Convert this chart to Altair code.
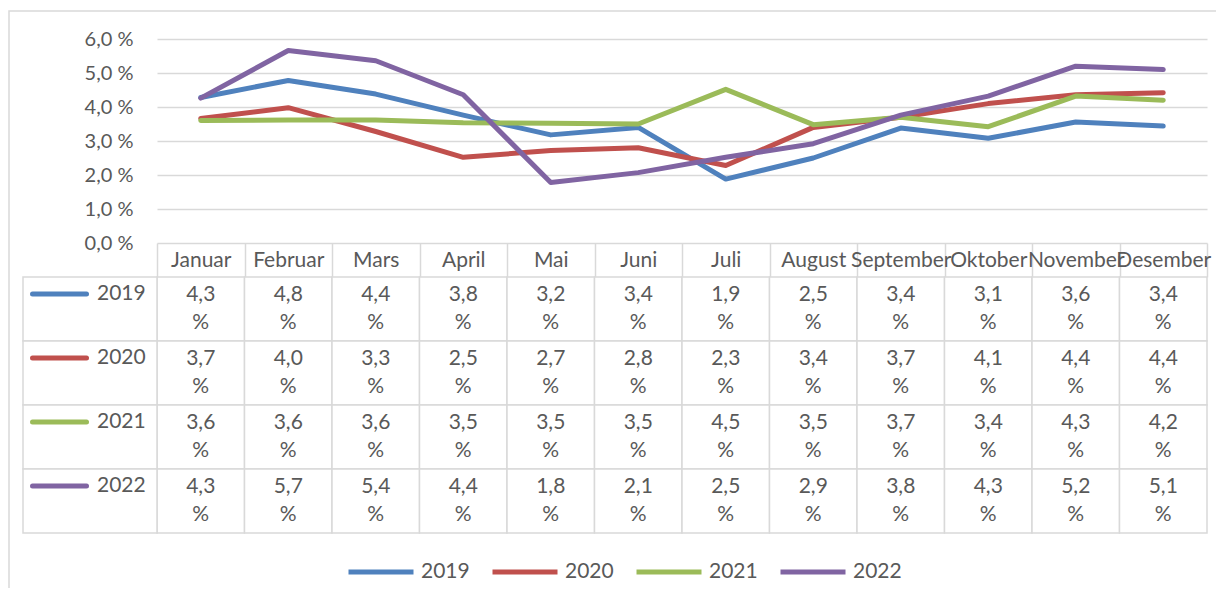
import altair as alt
import pandas as pd

months = ["Januar", "Februar", "Mars", "April", "Mai", "Juni", "Juli",
          "August", "September", "Oktober", "November", "Desember"]
years = ["2019", "2020", "2021", "2022"]
v2019 = [4.28, 4.78, 4.38, 3.76, 3.18, 3.40, 1.88, 2.50, 3.38, 3.08, 3.56, 3.44]
v2020 = [3.66, 3.98, 3.28, 2.52, 2.72, 2.80, 2.28, 3.40, 3.70, 4.10, 4.36, 4.42]
v2021 = [3.60, 3.62, 3.62, 3.54, 3.52, 3.50, 4.52, 3.48, 3.70, 3.42, 4.32, 4.20]
v2022 = [4.26, 5.66, 5.36, 4.36, 1.78, 2.07, 2.52, 2.92, 3.76, 4.32, 5.20, 5.10]
colors = ["#4F81BD", "#C0504D", "#9BBB59", "#8064A2"]

rows = []
for yr, vals in zip(years, [v2019, v2020, v2021, v2022]):
    for m, v in zip(months, vals):
        rows.append({"month": m, "year": yr, "value": v,
                     "label": f"{v:.1f}".replace(".", ",") + "\n%"})
df = pd.DataFrame(rows)
hdr_df = df[df["month"] == months[0]]

W, H = 1050, 494
GRID = "#d9d9d9"
TXT = "#595959"
FONT = "Lato"
FS = 21

xscale = alt.Scale(domain=months, type="band", paddingInner=0, paddingOuter=0)
cscale = alt.Scale(domain=years, range=colors)
xaxis = alt.Axis(orient="bottom", offset=-290, domain=False, grid=False,
                 tickBand="extent", tickSize=34, tickColor=GRID, tickWidth=1.5,
                 labelPadding=-28, labelAngle=0, labelFontSize=FS,
                 labelColor=TXT, labelFont=FONT)
xenc = alt.X("month:N", scale=xscale, sort=months, title=None, axis=xaxis)

frame = alt.Chart(pd.DataFrame({"f": [0]})).mark_rect(
    fill="white", fillOpacity=0, stroke=GRID, strokeWidth=1.5
).encode(x=alt.value(-148), x2=alt.value(1300), y=alt.value(-28), y2=alt.value(700))

lines = alt.Chart(df).mark_line(strokeWidth=5, strokeCap="round", strokeJoin="round").encode(
    x=xenc,
    y=alt.Y("value:Q", scale=alt.Scale(domain=[0, 6], range=[204, 0], nice=False),
            title=None,
            axis=alt.Axis(values=[0, 1, 2, 3, 4, 5, 6], grid=True, gridColor=GRID,
                          gridWidth=1.5, domain=False, ticks=False, labelPadding=24,
                          labelFontSize=20, labelColor=TXT, labelFont=FONT,
                          labelExpr="replace(format(datum.value, '.1f'), '.', ',') + ' %'")),
    color=alt.Color("year:N", scale=cscale,
                    legend=alt.Legend(title=None, orient="none", legendX=189, legendY=498,
                                      direction="horizontal", symbolType="stroke",
                                      symbolSize=4225, symbolStrokeWidth=5,
                                      labelFontSize=FS, labelColor=TXT, labelFont=FONT,
                                      labelOffset=5, columnPadding=12, padding=0)),
)

yt = alt.Y("year:N", scale=alt.Scale(domain=years, range=[238, 494], paddingInner=0,
                                     paddingOuter=0), axis=None)

cells = alt.Chart(df).mark_rect(fill="white", stroke=GRID, strokeWidth=1.5).encode(x=xenc, y=yt)
cell_text = alt.Chart(df).mark_text(font=FONT, fontSize=FS, color=TXT, lineHeight=28,
                                    baseline="middle", lineBreak="\n", dy=-14).encode(
    x=xenc, y=yt, text="label:N")
hdr = alt.Chart(hdr_df).mark_rect(fill="white", stroke=GRID, strokeWidth=1.5).encode(
    x=alt.value(-134), x2=alt.value(0), y=yt)
swatch = alt.Chart(hdr_df).mark_rule(strokeWidth=5, strokeCap="round", yOffset=-15).encode(
    x=alt.value(-124.5), x2=alt.value(-70.5), y=yt,
    color=alt.Color("year:N", scale=cscale, legend=None))
yr_text = alt.Chart(hdr_df).mark_text(font=FONT, fontSize=FS, color=TXT, align="left",
                                      baseline="middle", dy=-15).encode(
    x=alt.value(-60), y=yt, text="year:N")

table = alt.layer(cells, cell_text, hdr, swatch, yr_text)

chart = alt.layer(frame, lines, table).resolve_scale(y="independent").properties(
    width=W, height=H,
    autosize=alt.AutoSizeParams(type="none"),
    padding={"left": 149, "top": 31, "right": 9, "bottom": 55},
).configure_view(stroke=None)

chart.save("out.html", embed_options={"renderer": "svg", "actions": False})
